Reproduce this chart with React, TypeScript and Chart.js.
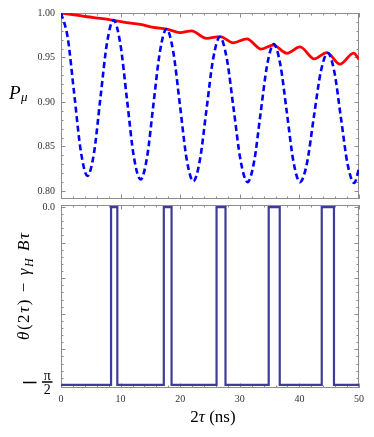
import React, { useEffect, useRef } from 'react';
import { Chart, registerables } from 'chart.js';

Chart.register(...registerables);

const PI = Math.PI;

// ---- data ----
const redX = [0, 2.2, 4.4, 6.6, 8.8, 11.0, 13.3, 15.5, 17.7, 20.0, 21.9, 24.4, 26.7, 28.9, 31.2, 33.6, 35.6, 37.9, 40.1, 42.5, 44.6, 46.8, 49.1, 50];
const redY = [1.0, 0.998, 0.9958, 0.994, 0.9918, 0.9893, 0.9872, 0.9838, 0.982, 0.978, 0.98, 0.9715, 0.9735, 0.9665, 0.971, 0.9595, 0.964, 0.9548, 0.962, 0.9485, 0.9555, 0.9425, 0.955, 0.948];

const blueX = [0, 1.11, 2.22, 3.34, 4.45, 5.54, 6.62, 7.71, 8.8, 9.94, 11.07, 12.21, 13.35, 14.44, 15.52, 16.61, 17.7, 18.82, 19.95, 21.08, 22.2, 23.31, 24.42, 25.54, 26.65, 27.81, 28.97, 30.14, 31.3, 32.4, 33.5, 34.6, 35.7, 36.8, 37.9, 39.0, 40.1, 41.26, 42.42, 43.59, 44.75, 45.86, 46.97, 48.09, 49.2, 50];
const blueY = [1.0, 0.973, 0.909, 0.844, 0.817, 0.843, 0.905, 0.966, 0.992, 0.966, 0.903, 0.839, 0.813, 0.838, 0.898, 0.957, 0.982, 0.957, 0.897, 0.836, 0.811, 0.835, 0.892, 0.949, 0.973, 0.949, 0.892, 0.834, 0.81, 0.833, 0.888, 0.942, 0.965, 0.942, 0.888, 0.833, 0.81, 0.831, 0.883, 0.934, 0.955, 0.934, 0.882, 0.83, 0.809, 0.825];

const stepX = [0, 8.4, 9.45, 17.25, 18.55, 26.1, 27.6, 34.85, 36.7, 43.75, 45.8, 50];
const stepY = [-PI / 2, 0, -PI / 2, 0, -PI / 2, 0, -PI / 2, 0, -PI / 2, 0, -PI / 2, -PI / 2];

const xTickLabels = [0, 10, 20, 30, 40, 50];
const topYTickLabels = [0.8, 0.85, 0.9, 0.95, 1.0];
const bottomYTickLabels = [0];

// ---- styling helpers ----
const SERIF = '"Liberation Serif", "DejaVu Serif", "Times New Roman", serif';
const font = (size: number, italic = false) => `${italic ? 'italic ' : ''}${size}px ${SERIF}`;
const FRAME = '#8c8c8c';
const LABEL = '#333333';

type Run = { t: string; size: number; italic?: boolean; dy?: number };

function runsWidth(ctx: CanvasRenderingContext2D, runs: Run[]) {
  let w = 0;
  let n = 0;
  for (const r of runs) {
    ctx.font = font(r.size, r.italic);
    for (const ch of r.t) {
      w += ctx.measureText(ch).width;
      n++;
    }
  }
  return { w, n };
}

function drawRuns(ctx: CanvasRenderingContext2D, runs: Run[], x: number, y: number, gap: number) {
  let cx = x;
  for (const r of runs) {
    ctx.font = font(r.size, r.italic);
    for (const ch of r.t) {
      ctx.fillText(ch, cx, y + (r.dy || 0));
      cx += ctx.measureText(ch).width + gap;
    }
  }
}

function drawFrame(ctx: CanvasRenderingContext2D, a: any) {
  ctx.save();
  ctx.strokeStyle = FRAME;
  ctx.lineWidth = 1;
  ctx.strokeRect(Math.round(a.left) + 0.5, Math.round(a.top) + 0.5, Math.round(a.right - a.left) - 1, Math.round(a.bottom - a.top) - 1);
  ctx.restore();
}

function drawXTicks(ctx: CanvasRenderingContext2D, a: any, scale: any, kMin: number, kMax: number, step: number, majorEvery: number) {
  ctx.save();
  ctx.strokeStyle = FRAME;
  ctx.lineWidth = 1;
  ctx.beginPath();
  for (let k = kMin; k <= kMax; k++) {
    const px = Math.round(scale.getPixelForValue(k * step)) + 0.5;
    const len = k % majorEvery === 0 ? 4.5 : 2.5;
    ctx.moveTo(px, a.bottom);
    ctx.lineTo(px, a.bottom - len);
    ctx.moveTo(px, a.top);
    ctx.lineTo(px, a.top + len);
  }
  ctx.stroke();
  ctx.restore();
}

function drawYTicks(ctx: CanvasRenderingContext2D, a: any, scale: any, kMin: number, kMax: number, step: number, majorEvery: number) {
  ctx.save();
  ctx.strokeStyle = FRAME;
  ctx.lineWidth = 1;
  ctx.beginPath();
  for (let k = kMin; k <= kMax; k++) {
    const py = Math.round(scale.getPixelForValue(k * step)) + 0.5;
    const len = k % majorEvery === 0 ? 4.5 : 2.5;
    ctx.moveTo(a.left, py);
    ctx.lineTo(a.left + len, py);
    ctx.moveTo(a.right, py);
    ctx.lineTo(a.right - len, py);
  }
  ctx.stroke();
  ctx.restore();
}

const topDecor = {
  id: 'topDecor',
  beforeDatasetsDraw(chart: any) {
    const { ctx, chartArea: a, scales } = chart;
    drawFrame(ctx, a);
    drawXTicks(ctx, a, scales.x, 0, 25, 2, 5);
    drawYTicks(ctx, a, scales.y, 80, 100, 0.01, 5);
  },
  afterDraw(chart: any) {
    const { ctx } = chart;
    ctx.save();
    ctx.fillStyle = '#000';
    ctx.textBaseline = 'alphabetic';
    ctx.textAlign = 'left';
    ctx.font = font(19, true);
    ctx.fillText('P', 9, 99);
    ctx.font = font(13, true);
    ctx.fillText('μ', 21, 101);
    ctx.restore();
  },
};

const bottomDecor = {
  id: 'bottomDecor',
  beforeDatasetsDraw(chart: any) {
    const { ctx, chartArea: a, scales } = chart;
    drawFrame(ctx, a);
    drawXTicks(ctx, a, scales.x, 0, 25, 2, 5);
    drawYTicks(ctx, a, scales.y, -25, 0, PI / 50, 5);
  },
  afterDraw(chart: any) {
    const { ctx, chartArea: a, scales } = chart;
    ctx.save();
    ctx.fillStyle = '#000';
    ctx.strokeStyle = '#000';
    ctx.textAlign = 'left';
    ctx.textBaseline = 'alphabetic';

    // -π/2 tick label
    const py = scales.y.getPixelForValue(-PI / 2);
    ctx.lineWidth = 1.3;
    ctx.beginPath();
    ctx.moveTo(23, py - 2.4);
    ctx.lineTo(36.5, py - 2.4);
    ctx.moveTo(42, py - 2.9);
    ctx.lineTo(52.5, py - 2.9);
    ctx.stroke();
    ctx.textAlign = 'center';
    ctx.font = font(14);
    ctx.fillText('π', 47.3, py - 5);
    ctx.fillText('2', 47.3, py + 8.6);
    ctx.textAlign = 'left';

    // y axis title (rotated)
    const yRuns: Run[] = [
      { t: 'θ', size: 17, italic: true },
      { t: '(2', size: 17 },
      { t: 'τ', size: 17, italic: true },
      { t: ')', size: 17 },
      { t: ' − ', size: 17 },
      { t: 'γ', size: 17, italic: true },
      { t: 'H', size: 12, italic: true, dy: 3.5 },
      { t: ' B', size: 17, italic: true },
      { t: 'τ', size: 17, italic: true },
    ];
    const m = runsWidth(ctx, yRuns);
    const target = 107;
    const gap = (target - m.w) / (m.n - 1);
    const cy = (a.top + a.bottom) / 2 - 10;
    ctx.save();
    ctx.translate(29, cy);
    ctx.rotate(-PI / 2);
    drawRuns(ctx, yRuns, -target / 2, 0, gap);
    ctx.restore();

    // x axis title
    const xRuns: Run[] = [
      { t: '2', size: 17 },
      { t: 'τ', size: 17, italic: true },
      { t: ' (ns)', size: 17 },
    ];
    const mx = runsWidth(ctx, xRuns);
    drawRuns(ctx, xRuns, 213 - mx.w / 2, a.bottom + 33.5, 0);
    ctx.restore();
  },
};

const toPoints = (xs: number[], ys: number[]) => xs.map((x, i) => ({ x, y: ys[i] }));

function topConfig(): any {
  return {
    type: 'line',
    data: {
      datasets: [
        {
          label: 'dashed',
          data: toPoints(blueX, blueY),
          borderColor: '#0000ff',
          borderWidth: 2.6,
          borderDash: [6, 3.5],
          pointRadius: 0,
          cubicInterpolationMode: 'monotone',
          fill: false,
        },
        {
          label: 'solid',
          data: toPoints(redX, redY),
          borderColor: '#ff0000',
          borderWidth: 2.8,
          pointRadius: 0,
          cubicInterpolationMode: 'monotone',
          fill: false,
        },
      ],
    },
    options: {
      animation: false,
      responsive: false,
      devicePixelRatio: 1,
      layout: { padding: { top: 13, right: 15, bottom: 3, left: 0 } },
      plugins: { legend: { display: false }, tooltip: { enabled: false }, title: { display: false } },
      scales: {
        x: { type: 'linear', min: 0, max: 50, display: false },
        y: {
          type: 'linear',
          min: 0.791,
          max: 1.0,
          grid: { display: false, drawTicks: false },
          border: { display: false },
          afterBuildTicks: (s: any) => {
            s.ticks = topYTickLabels.map((v) => ({ value: v }));
          },
          afterFit: (s: any) => {
            s.width = 61;
            s.paddingTop = 0;
            s.paddingBottom = 0;
          },
          ticks: {
            padding: 6,
            color: LABEL,
            font: { family: SERIF, size: 10 },
            callback: (v: any) => Number(v).toFixed(2),
          },
        },
      },
    },
    plugins: [topDecor],
  };
}

function bottomConfig(): any {
  return {
    type: 'line',
    data: {
      datasets: [
        {
          label: 'phase',
          data: toPoints(stepX, stepY),
          borderColor: 'rgb(61,61,153)',
          borderWidth: 2.2,
          pointRadius: 0,
          stepped: true,
          fill: false,
        },
      ],
    },
    options: {
      animation: false,
      responsive: false,
      devicePixelRatio: 1,
      layout: { padding: { top: 3, right: 15, bottom: 0, left: 0 } },
      plugins: { legend: { display: false }, tooltip: { enabled: false }, title: { display: false } },
      scales: {
        x: {
          type: 'linear',
          min: 0,
          max: 50,
          grid: { display: false, drawTicks: false },
          border: { display: false },
          afterBuildTicks: (s: any) => {
            s.ticks = xTickLabels.map((v) => ({ value: v }));
          },
          afterFit: (s: any) => {
            s.height = 49;
            s.paddingLeft = 0;
            s.paddingRight = 0;
          },
          ticks: {
            padding: 5,
            maxRotation: 0,
            autoSkip: false,
            color: LABEL,
            font: { family: SERIF, size: 10 },
            callback: (v: any) => String(v),
          },
        },
        y: {
          type: 'linear',
          min: -1.598,
          max: 0.018,
          grid: { display: false, drawTicks: false },
          border: { display: false },
          afterBuildTicks: (s: any) => {
            s.ticks = bottomYTickLabels.map((v) => ({ value: v }));
          },
          afterFit: (s: any) => {
            s.width = 61;
            s.paddingTop = 0;
            s.paddingBottom = 0;
          },
          ticks: {
            padding: 6,
            color: LABEL,
            font: { family: SERIF, size: 10 },
            callback: (v: any) => Number(v).toFixed(1),
          },
        },
      },
    },
    plugins: [bottomDecor],
  };
}

export default function App() {
  const topRef = useRef<HTMLCanvasElement>(null);
  const botRef = useRef<HTMLCanvasElement>(null);

  useEffect(() => {
    const c1 = new Chart(topRef.current as HTMLCanvasElement, topConfig());
    const c2 = new Chart(botRef.current as HTMLCanvasElement, bottomConfig());
    return () => {
      c1.destroy();
      c2.destroy();
    };
  }, []);

  return (
    <div style={{ position: 'absolute', left: 0, top: 0, width: 374, height: 437, background: '#fff', overflow: 'hidden' }}>
      <canvas ref={topRef} width={374} height={202} style={{ position: 'absolute', left: 0, top: 0, width: 374, height: 202 }} />
      <canvas ref={botRef} width={374} height={235} style={{ position: 'absolute', left: 0, top: 202, width: 374, height: 235 }} />
    </div>
  );
}
